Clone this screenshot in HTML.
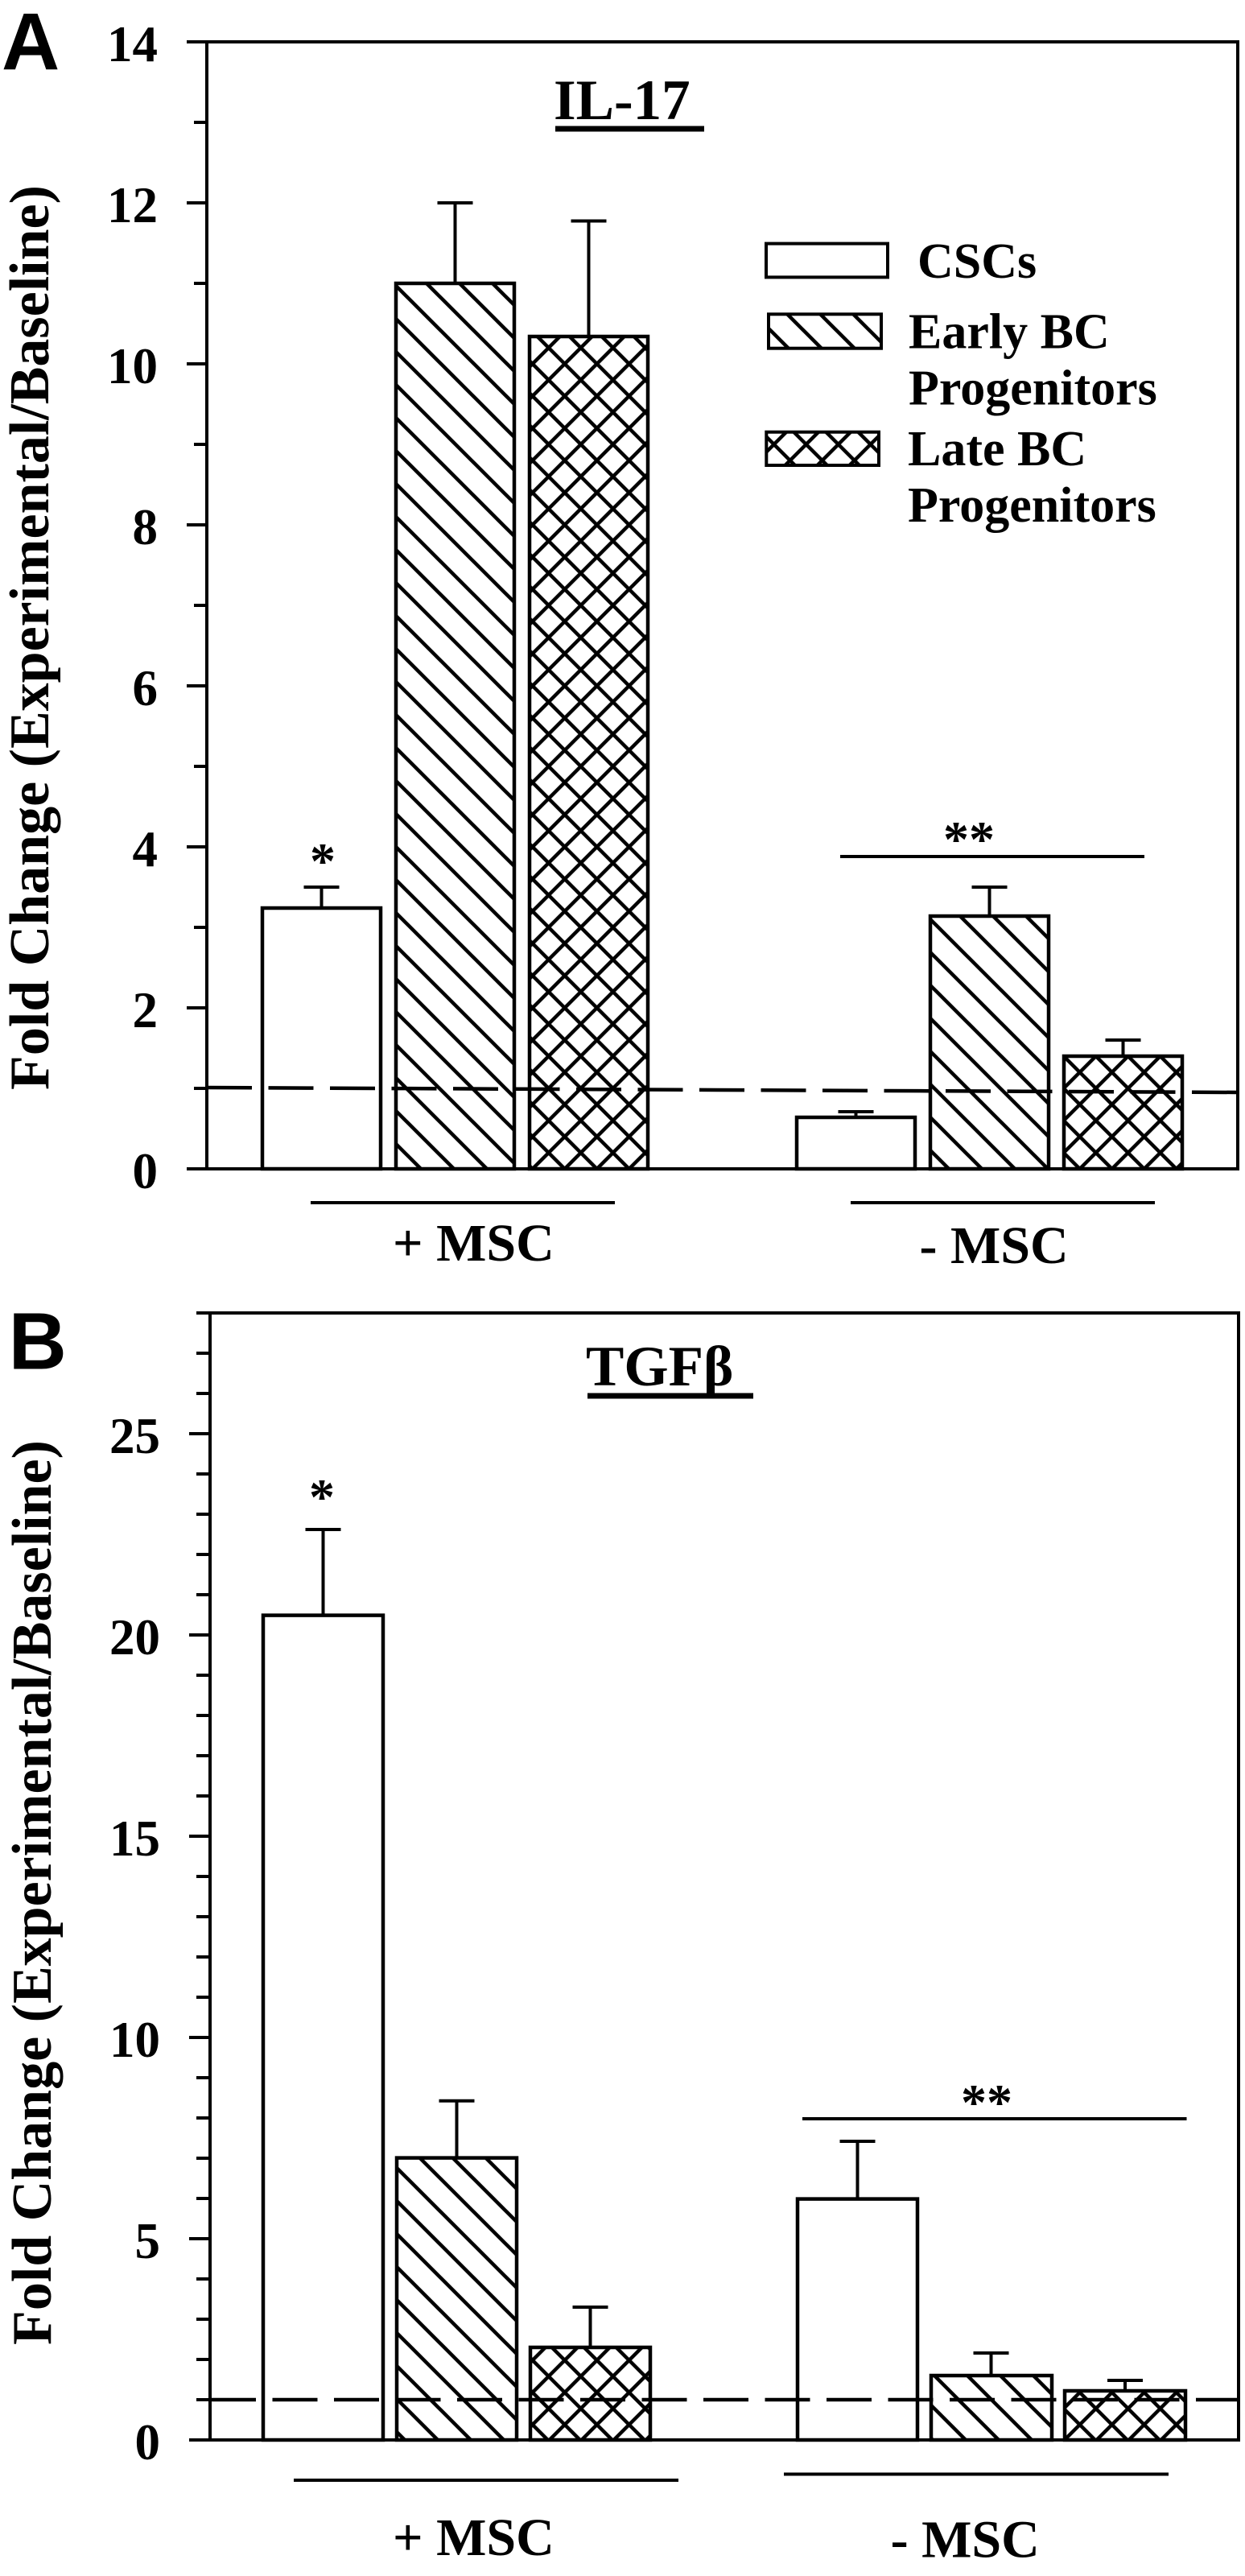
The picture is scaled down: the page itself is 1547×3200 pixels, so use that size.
<!DOCTYPE html>
<html>
<head>
<meta charset="utf-8">
<style>
html,body{margin:0;padding:0;background:#fff;}
svg{display:block;}
text{font-family:"Liberation Serif","Times New Roman",serif;font-weight:bold;fill:#000;}
.sans{font-family:"Liberation Sans",Arial,sans-serif;font-weight:bold;}
</style>
</head>
<body>
<svg xmlns="http://www.w3.org/2000/svg" width="1547" height="3200" viewBox="0 0 1547 3200">
<defs>
<pattern id="diag" patternUnits="userSpaceOnUse" width="41" height="41" x="14" y="0">
<rect width="41" height="41" fill="#fff"/>
<path d="M-10,-10 L51,51 M31,-10 L51,10 M-10,31 L10,51" stroke="#000" stroke-width="4.5" fill="none"/>
</pattern>
<pattern id="cross" patternUnits="userSpaceOnUse" width="40" height="40" x="21.7" y="12">
<rect width="40" height="40" fill="#fff"/>
<path d="M-10,-10 L50,50 M30,-10 L50,10 M-10,30 L10,50 M-10,50 L50,-10 M-10,10 L10,-10 M30,50 L50,30" stroke="#000" stroke-width="4.5" fill="none"/>
</pattern>
</defs>
<rect width="1547" height="3200" fill="#fff"/>

<!-- ================= PANEL A ================= -->
<text class="sans" x="2" y="86" font-size="100">A</text>

<!-- frame -->
<rect x="257" y="52" width="1281" height="1400" fill="none" stroke="#000" stroke-width="4"/>
<!-- ticks -->
<path stroke="#000" stroke-width="4" fill="none" d="
M232,1452H257 M241,1352H257 M232,1252H257 M241,1152H257 M232,1052H257 M241,952H257
M232,852H257 M241,752H257 M232,652H257 M241,552H257 M232,452H257 M241,352H257
M232,252H257 M241,152H257 M232,52H257"/>
<!-- tick labels -->
<g font-size="63" text-anchor="end">
<text x="196" y="1476">0</text>
<text x="196" y="1276">2</text>
<text x="196" y="1076">4</text>
<text x="196" y="876">6</text>
<text x="196" y="676">8</text>
<text x="196" y="476">10</text>
<text x="196" y="276">12</text>
<text x="196" y="76">14</text>
</g>
<!-- y label -->
<text font-size="70" text-anchor="middle" transform="translate(60,792) rotate(-90)">Fold Change (Experimental/Baseline)</text>

<!-- title -->
<text x="688" y="148" font-size="71">IL-17</text>
<rect x="690" y="156.5" width="185" height="7" fill="#000"/>

<!-- bars A +MSC -->
<rect x="326" y="1128" width="147" height="324" fill="#fff" stroke="#000" stroke-width="4.5"/>
<rect x="492" y="352" width="147" height="1100" fill="url(#diag)" stroke="#000" stroke-width="4.5"/>
<rect x="658" y="418" width="147" height="1034" fill="url(#cross)" stroke="#000" stroke-width="4.5"/>
<!-- bars A -MSC -->
<rect x="990" y="1388" width="147" height="64" fill="#fff" stroke="#000" stroke-width="4.5"/>
<rect x="1156" y="1138" width="147" height="314" fill="url(#diag)" stroke="#000" stroke-width="4.5"/>
<rect x="1322" y="1312" width="147" height="140" fill="url(#cross)" stroke="#000" stroke-width="4.5"/>
<!-- error bars A -->
<path stroke="#000" stroke-width="4" fill="none" d="
M399.5,1128V1102 M377.5,1102H421.5
M565.5,352V252 M543.5,252H587.5
M731.5,418V274.5 M709.5,274.5H753.5
M1063.5,1388V1381 M1041.5,1381H1085.5
M1229.5,1138V1102 M1207.5,1102H1251.5
M1395.5,1312V1292 M1373.5,1292H1417.5"/>
<!-- baseline dashed -->
<line x1="257" y1="1351" x2="1538" y2="1357" stroke="#000" stroke-width="4.5" stroke-dasharray="56 20.5"/>
<!-- significance -->
<text x="401" y="1091" font-size="64" text-anchor="middle">*</text>
<line x1="1044" y1="1064" x2="1422" y2="1064" stroke="#000" stroke-width="4"/>
<text x="1204" y="1064" font-size="64" text-anchor="middle">**</text>
<!-- group lines -->
<line x1="386" y1="1494" x2="764" y2="1494" stroke="#000" stroke-width="4"/>
<line x1="1057" y1="1494" x2="1435" y2="1494" stroke="#000" stroke-width="4"/>
<text x="488" y="1566" font-size="66">+ MSC</text>
<text x="1142.5" y="1569" font-size="66">- MSC</text>

<!-- legend -->
<rect x="952" y="302.6" width="151" height="41.8" fill="#fff" stroke="#000" stroke-width="4"/>
<rect x="955" y="390.3" width="140" height="42.4" fill="url(#diag)" stroke="#000" stroke-width="4"/>
<rect x="952.3" y="536.7" width="139.7" height="41.3" fill="url(#cross)" stroke="#000" stroke-width="4"/>
<g font-size="62">
<text x="1140" y="345">CSCs</text>
<text x="1129" y="432.6">Early BC</text>
<text x="1129" y="502.6">Progenitors</text>
<text x="1128" y="578">Late BC</text>
<text x="1128" y="648">Progenitors</text>
</g>

<!-- ================= PANEL B ================= -->
<text class="sans" x="10.6" y="1700.5" font-size="100">B</text>

<rect x="261" y="1631" width="1278" height="1400" fill="none" stroke="#000" stroke-width="4"/>
<path stroke="#000" stroke-width="4" fill="none" d="
M235,3031H261 M244,2981H261 M244,2931H261 M244,2881H261 M244,2831H261
M235,2781H261 M244,2731H261 M244,2681H261 M244,2631H261 M244,2581H261
M235,2531H261 M244,2481H261 M244,2431H261 M244,2381H261 M244,2331H261
M235,2281H261 M244,2231H261 M244,2181H261 M244,2131H261 M244,2081H261
M235,2031H261 M244,1981H261 M244,1931H261 M244,1881H261 M244,1831H261
M235,1781H261 M244,1731H261 M244,1681H261 M244,1631H261"/>
<g font-size="63" text-anchor="end">
<text x="199" y="3055">0</text>
<text x="199" y="2805">5</text>
<text x="199" y="2555">10</text>
<text x="199" y="2305">15</text>
<text x="199" y="2055">20</text>
<text x="199" y="1805">25</text>
</g>
<text font-size="70" text-anchor="middle" transform="translate(63,2351) rotate(-90)">Fold Change (Experimental/Baseline)</text>

<text x="728" y="1721" font-size="71">TGFβ</text>
<rect x="730" y="1730.5" width="206" height="7" fill="#000"/>

<!-- bars B +MSC -->
<rect x="327" y="2006.6" width="149" height="1024.4" fill="#fff" stroke="#000" stroke-width="4.5"/>
<rect x="493" y="2680.6" width="149" height="350.4" fill="url(#diag)" stroke="#000" stroke-width="4.5"/>
<rect x="659" y="2916" width="149" height="115" fill="url(#cross)" stroke="#000" stroke-width="4.5"/>
<!-- bars B -MSC -->
<rect x="991" y="2731.6" width="149" height="299.4" fill="#fff" stroke="#000" stroke-width="4.5"/>
<rect x="1157" y="2951" width="150" height="80" fill="url(#diag)" stroke="#000" stroke-width="4.5"/>
<rect x="1323" y="2970" width="150" height="61" fill="url(#cross)" stroke="#000" stroke-width="4.5"/>
<path stroke="#000" stroke-width="4" fill="none" d="
M401.5,2006.6V1900 M379.5,1900H423.5
M567.5,2680.6V2609.7 M545.5,2609.7H589.5
M733.5,2916V2866 M711.5,2866H755.5
M1065.5,2731.6V2660 M1043.5,2660H1087.5
M1231.5,2951V2923 M1209.5,2923H1253.5
M1398,2970V2957 M1376,2957H1420"/>
<line x1="262" y1="2981" x2="1539" y2="2981" stroke="#000" stroke-width="4.5" stroke-dasharray="56 20.5"/>
<text x="400" y="1881" font-size="64" text-anchor="middle">*</text>
<line x1="997" y1="2632" x2="1474.5" y2="2632" stroke="#000" stroke-width="4"/>
<text x="1226" y="2633" font-size="64" text-anchor="middle">**</text>
<line x1="365" y1="3081" x2="843" y2="3081" stroke="#000" stroke-width="4"/>
<line x1="974" y1="3073.5" x2="1452" y2="3073.5" stroke="#000" stroke-width="4"/>
<text x="488" y="3174" font-size="66">+ MSC</text>
<text x="1106.6" y="3176.5" font-size="66">- MSC</text>
</svg>
</body>
</html>
